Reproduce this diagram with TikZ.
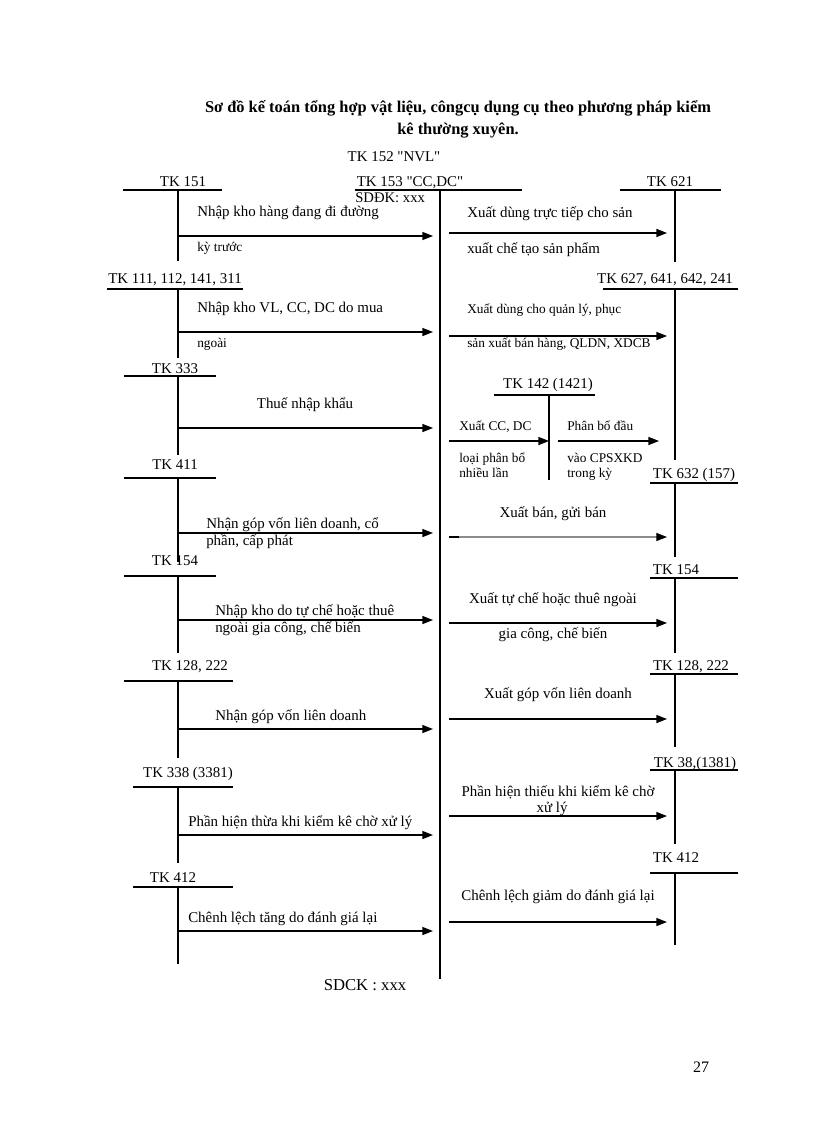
\documentclass[tikz,border=0pt]{standalone}
\usepackage{fontspec}
\setmainfont{Liberation Serif}
\usetikzlibrary{arrows.meta}

\begin{document}
\begin{tikzpicture}[x=0.75pt, y=-0.75pt,
  bar/.style={line width=1.4pt},
  stem/.style={line width=0.9pt},
  flow/.style={line width=1.1pt, -{Triangle[length=8pt, width=6pt]}},
  acc/.style={inner sep=0pt, anchor=base, font=\fontsize{11.2}{13}\selectfont},
  txt/.style={inner sep=0pt, anchor=base west, font=\fontsize{11.2}{13}\selectfont},
  mid/.style={inner sep=0pt, anchor=base, font=\fontsize{11.2}{13}\selectfont},
  sml/.style={inner sep=0pt, anchor=base west, font=\fontsize{10}{12}\selectfont}]
  \useasboundingbox (0,0) rectangle (816,1123);
  % title and the central account
  \node[inner sep=0pt, anchor=base, font=\fontsize{12.3}{14}\selectfont\bfseries] (title1) at (458,113)
    {Sơ đồ kế toán tổng hợp vật liệu, côngcụ dụng cụ theo phương pháp kiểm};
  \node[inner sep=0pt, anchor=base, font=\fontsize{12.3}{14}\selectfont\bfseries] (title2) at (458,135) {kê thường xuyên.};
  \node[acc] (tk152) at (394,162) {TK 152 \textquotedbl NVL\textquotedbl};
  \node[acc] (tk153) at (410,187) {TK 153 \textquotedbl CC,DC\textquotedbl};
  \draw[bar] (355,190) -- (522,190);
  \coordinate (ctop) at (440,190);
  \coordinate (cbot) at (440,979);
  \draw[line width=1.2pt] (ctop) -- (cbot);
  \node[inner sep=0pt, anchor=base west, font=\fontsize{11}{13}\selectfont] (sddk) at (355,203) {SDĐK: xxx};
  \node[inner sep=0pt, anchor=base, font=\fontsize{12.5}{15}\selectfont] (sdck) at (365,990) {SDCK : xxx};

  % left side accounts
  \node[acc] (tk151) at (183,187) {TK 151};
  \draw[bar] (123,190) -- (222,190);
  \draw[stem] (178,190) -- (178,261);
  \coordinate (l1s) at (178,236); \coordinate (l1e) at (433,236);
  \draw[flow] (l1s) -- (l1e);
  \node[txt] (l1a) at (197,217) {Nhập kho hàng đang đi đường};
  \node[sml] (l1b) at (197,252) {kỳ trước};

  \node[acc] (tk111) at (175,283) {TK 111, 112, 141, 311};
  \draw[bar] (107,289) -- (243,289);
  \draw[stem] (178,289) -- (178,358);
  \coordinate (l2s) at (178,332); \coordinate (l2e) at (433,332);
  \draw[flow] (l2s) -- (l2e);
  \node[txt] (l2a) at (197,312) {Nhập kho VL, CC, DC do mua};
  \node[sml] (l2b) at (197,347) {ngoài};

  \node[acc] (tk333) at (175,373) {TK 333};
  \draw[bar] (124,376) -- (216,376);
  \draw[stem] (178,376) -- (178,455);
  \coordinate (l3s) at (178,428); \coordinate (l3e) at (433,428);
  \draw[flow] (l3s) -- (l3e);
  \node[mid] (l3a) at (305,408) {Thuế nhập khẩu};

  \node[acc] (tk411) at (175,469) {TK 411};
  \draw[bar] (124,478) -- (216,478);
  \draw[stem] (178,478) -- (178,562);
  \coordinate (l4s) at (178,533); \coordinate (l4e) at (433,533);
  \draw[flow] (l4s) -- (l4e);
  \node[txt] (l4a) at (206,528) {Nhận góp vốn liên doanh, cổ};
  \node[txt] (l4b) at (206,545) {phần, cấp phát};

  \node[acc] (tk154l) at (175,565) {TK 154};
  \draw[bar] (124,576) -- (216,576);
  \draw[stem] (178,576) -- (178,653);
  \coordinate (l5s) at (178,620); \coordinate (l5e) at (433,620);
  \draw[flow] (l5s) -- (l5e);
  \node[txt] (l5a) at (215,615) {Nhập kho do tự chế hoặc thuê};
  \node[txt] (l5b) at (215,632) {ngoài gia công, chế biến};

  \node[acc] (tk128l) at (190,670) {TK 128, 222};
  \draw[bar] (124,681) -- (233,681);
  \draw[stem] (178,681) -- (178,758);
  \coordinate (l6s) at (178,729); \coordinate (l6e) at (433,729);
  \draw[flow] (l6s) -- (l6e);
  \node[txt] (l6a) at (215,720) {Nhận góp vốn liên doanh};

  \node[acc] (tk338) at (188,777) {TK 338 (3381)};
  \draw[bar] (133,787) -- (233,787);
  \draw[stem] (178,787) -- (178,863);
  \coordinate (l7s) at (178,835); \coordinate (l7e) at (433,835);
  \draw[flow] (l7s) -- (l7e);
  \node[txt] (l7a) at (188,826) {Phần hiện thừa khi kiểm kê chờ xử lý};

  \node[acc] (tk412l) at (173,882) {TK 412};
  \draw[bar] (133,887) -- (233,887);
  \draw[stem] (178,887) -- (178,964);
  \coordinate (l8s) at (178,931); \coordinate (l8e) at (433,931);
  \draw[flow] (l8s) -- (l8e);
  \node[txt] (l8a) at (188,922) {Chênh lệch tăng do đánh giá lại};

  % right side accounts
  \node[acc] (tk621) at (670,187) {TK 621};
  \draw[bar] (620,190) -- (721,190);
  \draw[stem] (675,190) -- (675,262);
  \coordinate (r1s) at (449,233); \coordinate (r1e) at (667,233);
  \draw[flow] (r1s) -- (r1e);
  \node[txt] (r1a) at (467,218) {Xuất dùng trực tiếp cho sản};
  \node[txt] (r1b) at (467,253) {xuất chế tạo sản phẩm};

  \node[acc] (tk627) at (665,283) {TK 627, 641, 642, 241};
  \draw[bar] (603,289) -- (738,289);
  \draw[stem] (675,289) -- (675,460);
  \coordinate (r2s) at (449,336); \coordinate (r2e) at (667,336);
  \draw[flow] (r2s) -- (r2e);
  \node[sml] (r2a) at (467,313) {Xuất dùng cho quản lý, phục};
  \node[sml] (r2b) at (467,347) {sản xuất bán hàng, QLDN, XDCB};

  \node[acc] (tk142) at (548,388) {TK 142 (1421)};
  \draw[bar] (494,395) -- (595,395);
  \coordinate (k142t) at (549,395); \coordinate (k142b) at (549,480);
  \draw[stem] (k142t) -- (k142b);
  \coordinate (r3s) at (449,441); \coordinate (r3e) at (549,441);
  \draw[flow] (r3s) -- (r3e);
  \coordinate (r3t) at (558,441); \coordinate (r3u) at (659,441);
  \draw[flow] (r3t) -- (r3u);
  \node[sml] (r3a) at (459,430) {Xuất CC, DC};
  \node[sml] (r3b) at (459,462) {loại phân bổ};
  \node[sml] (r3c) at (459,477) {nhiều lần};
  \node[sml] (r3d) at (567,430) {Phân bổ đầu};
  \node[sml] (r3g) at (567,462) {vào CPSXKD};
  \node[sml] (r3f) at (567,477) {trong kỳ};

  \node[acc] (tk632) at (694,478) {TK 632 (157)};
  \draw[bar] (650,483) -- (738,483);
  \draw[stem] (675,483) -- (675,557);
  \coordinate (r4s) at (449,537); \coordinate (r4m) at (459,537); \coordinate (r4e) at (667,537);
  \draw[flow, draw=black!45, line width=0.9pt, -{Triangle[length=8pt, width=6pt, color=black]}] (r4s) -- (r4e);
  \draw[line width=1.1pt] (r4s) -- (r4m);
  \node[mid] (r4a) at (553,517) {Xuất bán, gửi bán};

  \node[acc] (tk154r) at (676,574) {TK 154};
  \draw[bar] (650,578) -- (738,578);
  \draw[stem] (675,578) -- (675,653);
  \coordinate (r5s) at (449,623); \coordinate (r5e) at (667,623);
  \draw[flow] (r5s) -- (r5e);
  \node[mid] (r5a) at (553,603) {Xuất tự chế hoặc thuê ngoài};
  \node[mid] (r5b) at (553,638) {gia công, chế biến};

  \node[acc] (tk128r) at (691,670) {TK 128, 222};
  \draw[bar] (650,674) -- (738,674);
  \draw[stem] (675,674) -- (675,747);
  \coordinate (r6s) at (449,719); \coordinate (r6e) at (667,719);
  \draw[flow] (r6s) -- (r6e);
  \node[mid] (r6a) at (558,698) {Xuất góp vốn liên doanh};

  \node[acc] (tk138) at (695,767) {TK 38,(1381)};
  \draw[bar] (650,770) -- (738,770);
  \draw[stem] (675,770) -- (675,844);
  \coordinate (r7s) at (449,816); \coordinate (r7e) at (667,816);
  \draw[flow] (r7s) -- (r7e);
  \node[mid] (r7a) at (558,796) {Phần hiện thiếu khi kiểm kê chờ};
  \node[mid] (r7b) at (552,812) {xử lý};

  \node[acc] (tk412r) at (676,862) {TK 412};
  \draw[bar] (650,873) -- (738,873);
  \draw[stem] (675,873) -- (675,945);
  \coordinate (r8s) at (449,922); \coordinate (r8e) at (667,922);
  \draw[flow] (r8s) -- (r8e);
  \node[mid] (r8a) at (558,900) {Chênh lệch giảm do đánh giá lại};

  \node[inner sep=0pt, anchor=base, font=\fontsize{12}{14}\selectfont] (page) at (701,1072) {27};
\end{tikzpicture}
\end{document}
